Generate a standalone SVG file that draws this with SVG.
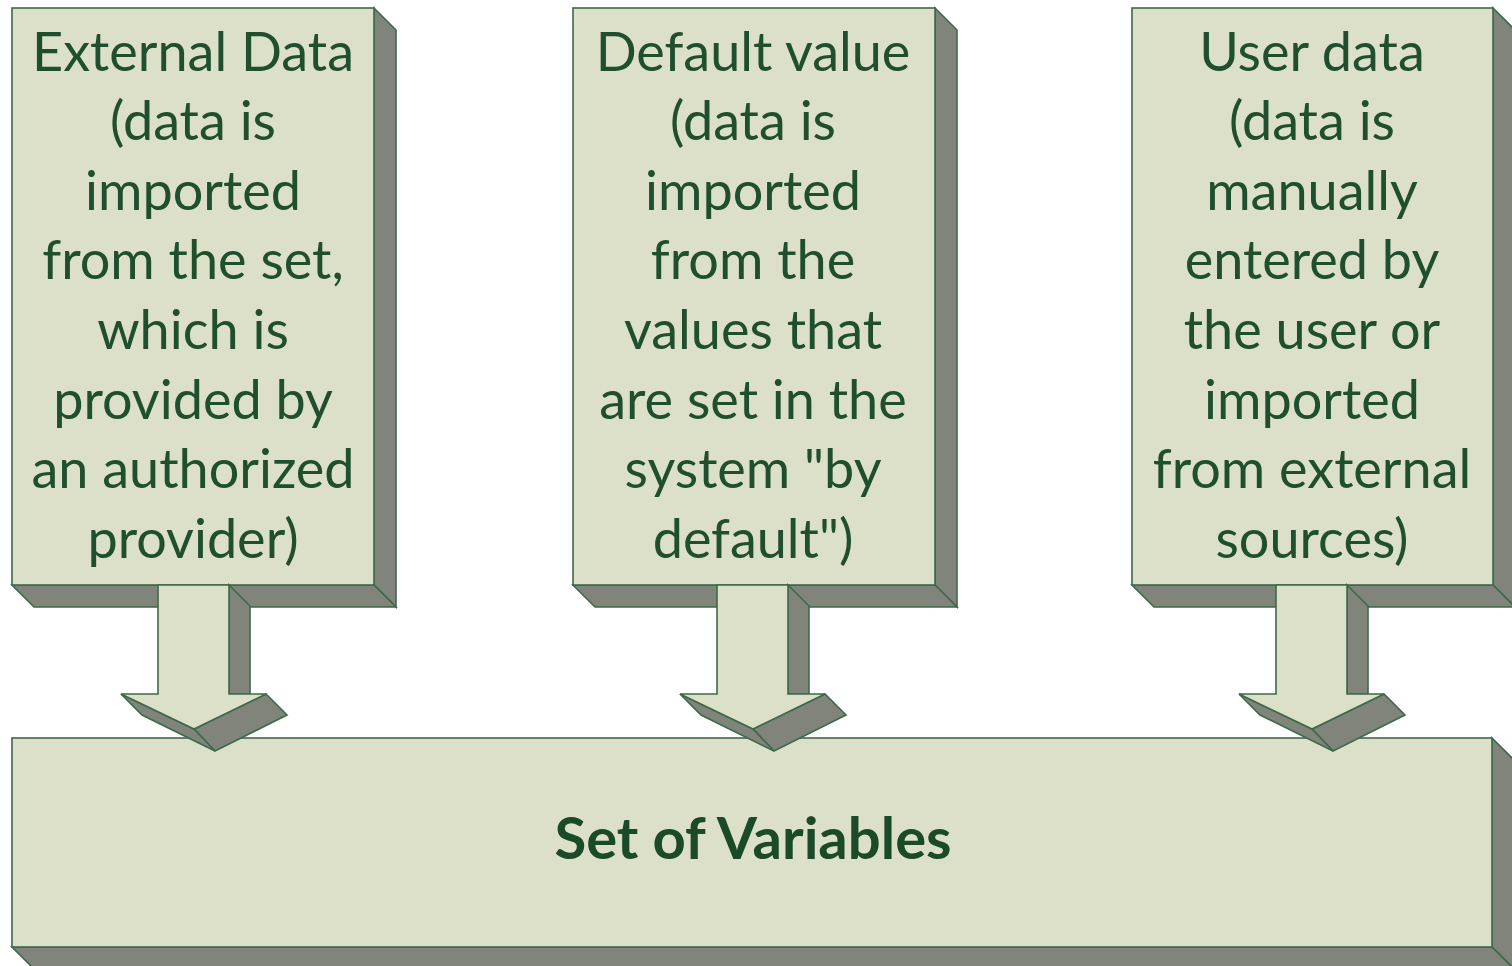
<svg xmlns="http://www.w3.org/2000/svg" width="1512" height="966" viewBox="0 0 1512 966">
<style>
.face{fill:#DCE0C9;stroke:#3D6A4A;stroke-width:1.6;stroke-linejoin:miter}
.side{fill:#80847A;stroke:#3D6A4A;stroke-width:1.6;stroke-linejoin:miter}
.t{font-family:Lato,"Liberation Sans",sans-serif;font-size:54px;fill:#1F4F2D;text-anchor:middle}
.b{font-family:Lato,"Liberation Sans",sans-serif;font-size:58px;font-weight:bold;fill:#1A4A27;text-anchor:middle}
</style>
<rect width="1512" height="966" fill="#FFFFFF"/>
<g id="set-of-variables">
<polygon class="side" points="1492,738 1514,760 1514,969 1492,947"/>
<polygon class="side" points="12,947 1492,947 1514,969 34,969"/>
<rect class="face" x="12" y="738" width="1480" height="209"/>
<text class="b" x="753" y="859">Set of Variables</text>
</g>
<g id="external-data">
<polygon class="side" points="374,8 396,30 396,607 374,585"/>
<polygon class="side" points="12,585 374,585 396,607 34,607"/>
<rect class="face" x="12" y="8" width="362" height="577"/>
<text class="t"><tspan x="193" y="70.5">External Data</tspan><tspan x="193" y="140.1">(data is</tspan><tspan x="193" y="209.7">imported</tspan><tspan x="193" y="279.3">from the set,</tspan><tspan x="193" y="348.9">which is</tspan><tspan x="193" y="418.5">provided by</tspan><tspan x="193" y="488.1">an authorized</tspan><tspan x="193" y="557.7">provider)</tspan></text>
</g>
<g id="default-value">
<polygon class="side" points="935,8 957,30 957,607 935,585"/>
<polygon class="side" points="573,585 935,585 957,607 595,607"/>
<rect class="face" x="573" y="8" width="362" height="577"/>
<text class="t"><tspan x="753" y="70.5">Default value</tspan><tspan x="753" y="140.1">(data is</tspan><tspan x="753" y="209.7">imported</tspan><tspan x="753" y="279.3">from the</tspan><tspan x="753" y="348.9">values that</tspan><tspan x="753" y="418.5">are set in the</tspan><tspan x="753" y="488.1">system "by</tspan><tspan x="753" y="557.7">default")</tspan></text>
</g>
<g id="user-data">
<polygon class="side" points="1493,8 1515,30 1515,607 1493,585"/>
<polygon class="side" points="1132,585 1493,585 1515,607 1154,607"/>
<rect class="face" x="1132" y="8" width="361" height="577"/>
<text class="t"><tspan x="1312" y="70.5">User data</tspan><tspan x="1312" y="140.1">(data is</tspan><tspan x="1312" y="209.7">manually</tspan><tspan x="1312" y="279.3">entered by</tspan><tspan x="1312" y="348.9">the user or</tspan><tspan x="1312" y="418.5">imported</tspan><tspan x="1312" y="488.1">from external</tspan><tspan x="1312" y="557.7">sources)</tspan></text>
</g>
<defs>
<g id="arrow">
<polygon class="side" points="229,585 250,606 250,694 229,694"/>
<polygon class="side" points="194,729 266,694 287,715 215,751"/>
<polygon class="side" points="121,694 194,729 215,751 142,715"/>
<polygon class="face" points="158,585 229,585 229,694 266,694 194,729 121,694 158,694"/>
</g>
</defs>
<g id="connectors">
<use href="#arrow"/>
<use href="#arrow" x="559"/>
<use href="#arrow" x="1118"/>
</g>
</svg>
